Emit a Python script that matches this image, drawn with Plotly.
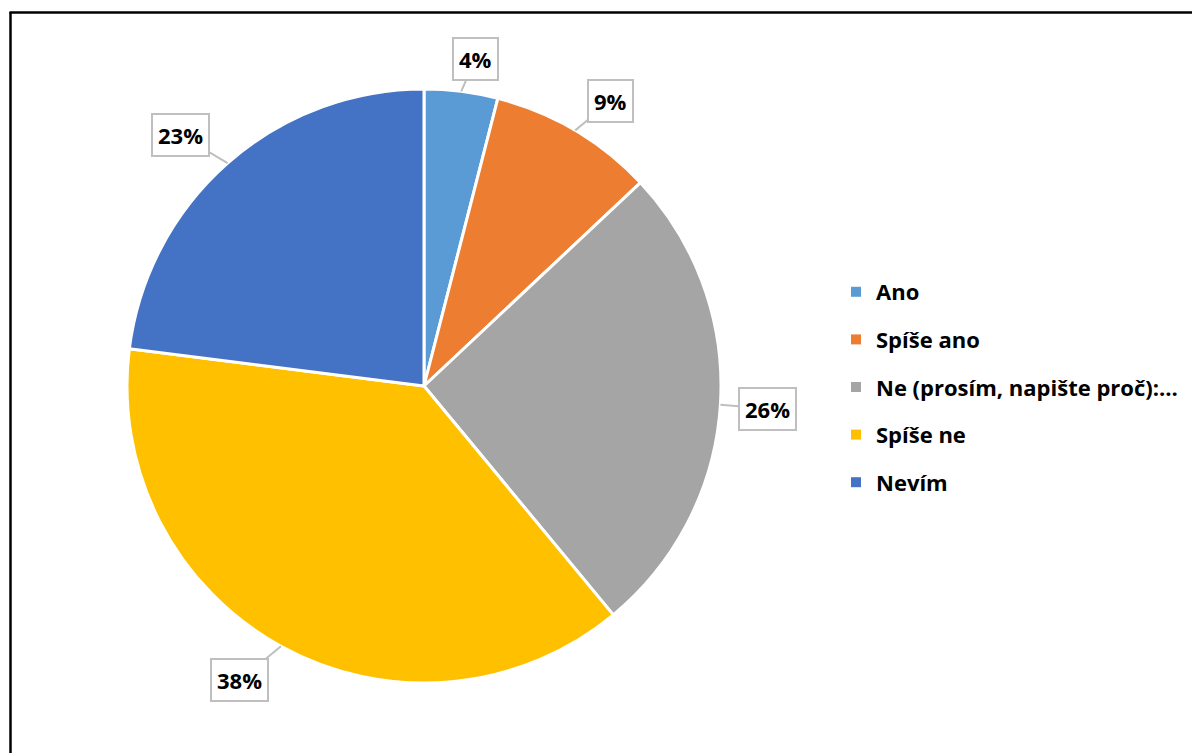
import math
import plotly.graph_objects as go

# Survey answers and their shares (percent)
categories = ["Ano", "Spíše ano", "Ne (prosím, napište proč):…", "Spíše ne", "Nevím"]
shares = [4, 9, 26, 38, 23]
colors = ["#5B9BD5", "#ED7D31", "#A5A5A5", "#FFC000", "#4472C4"]

W, H = 1192, 753
FONT = "'Open Sans', Lato, sans-serif"

# pie placement in pixels
PIE_CX, PIE_CY, PIE_R = 424, 386, 297
dom_x = [(PIE_CX - PIE_R) / W, (PIE_CX + PIE_R) / W]
dom_y = [1 - (PIE_CY + PIE_R) / H, 1 - (PIE_CY - PIE_R) / H]

fig = go.Figure()
fig.add_trace(go.Pie(
    labels=categories,
    values=shares,
    sort=False,
    direction="clockwise",
    rotation=0,
    marker=dict(colors=colors, line=dict(color="white", width=3)),
    textinfo="none",
    hoverinfo="label+percent",
    showlegend=False,
    domain=dict(x=dom_x, y=dom_y),
))

# legend entries, one group per category so they can be spaced apart
for i, (name, col) in enumerate(zip(categories, colors)):
    fig.add_trace(go.Scatter(
        x=[None], y=[None], mode="markers", name=name,
        marker=dict(symbol="square", size=10, color=col),
        legendgroup=f"g{i}", showlegend=True, hoverinfo="skip",
    ))

# callout label offsets (pixels from the slice edge to the box centre)
label_offsets = [(14, -32), (35, -29), (47, 4), (-41, 34), (-47, -28)]

total = sum(shares)
cum = 0
annotations = []
for v, (ax, ay) in zip(shares, label_offsets):
    mid = (cum + v / 2) / total * 2 * math.pi
    cum += v
    px = PIE_CX + PIE_R * math.sin(mid)
    py = PIE_CY - PIE_R * math.cos(mid)
    annotations.append(dict(
        x=px / W, y=1 - py / H, xref="paper", yref="paper",
        text=f"<b>{v}%</b>", showarrow=True, arrowhead=0,
        arrowcolor="#BFBFBF", arrowwidth=2, ax=ax, ay=ay,
        bgcolor="white", bordercolor="#BFBFBF", borderwidth=2,
        borderpad=5, font=dict(family=FONT, size=22, color="black"),
    ))

fig.update_layout(
    width=W, height=H,
    margin=dict(l=0, r=0, t=0, b=0),
    paper_bgcolor="white", plot_bgcolor="white",
    xaxis=dict(visible=False), yaxis=dict(visible=False),
    annotations=annotations,
    legend=dict(
        x=836 / W, y=1 - 271 / H, xanchor="left", yanchor="top",
        traceorder="grouped", tracegroupgap=16,
        font=dict(family=FONT, size=22, color="black", weight="bold"),
        itemwidth=30, bgcolor="rgba(0,0,0,0)",
    ),
    shapes=[
        dict(type="line", xref="paper", yref="paper",
             x0=10.5 / W, x1=10.5 / W, y0=-0.02, y1=1 - 12 / H,
             line=dict(color="black", width=2.5)),
        dict(type="line", xref="paper", yref="paper",
             x0=9.5 / W, x1=1.02, y0=1 - 12.5 / H, y1=1 - 12.5 / H,
             line=dict(color="black", width=2.5)),
    ],
)

fig.write_html("out.html")
